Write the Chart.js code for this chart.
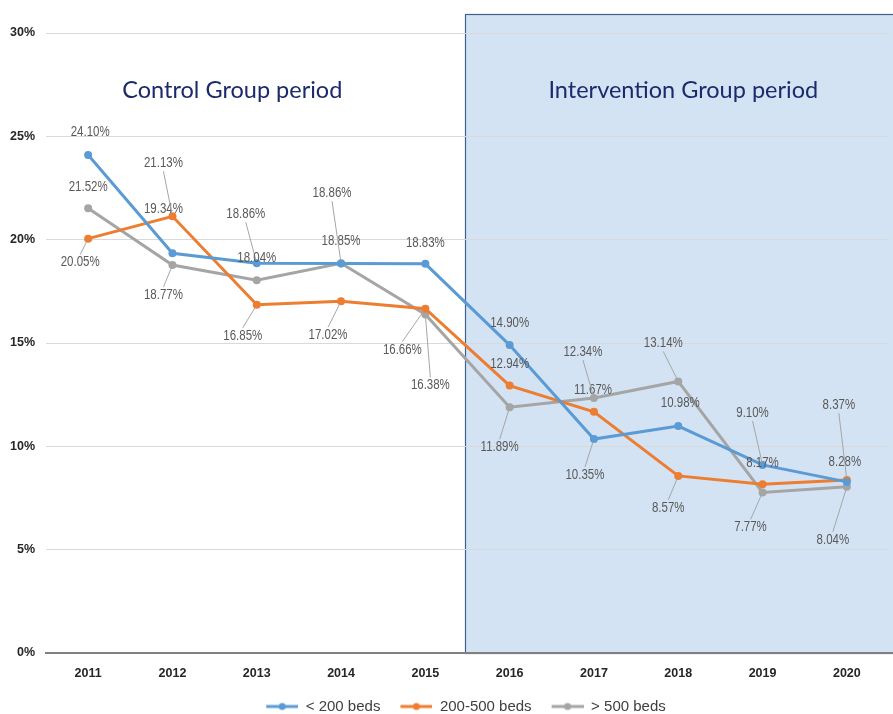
<!DOCTYPE html>
<html>
<head>
<meta charset="utf-8">
<script src="https://cdn.jsdelivr.net/npm/chart.js@4/dist/chart.umd.min.js"></script>
<style>
  html, body { margin: 0; padding: 0; background: #ffffff; }
  #wrap { width: 893px; height: 714px; position: relative; }
</style>
</head>
<body>
<div id="wrap"><canvas id="c" width="893" height="714"></canvas></div>
<script>
// ---- data ----
const years = ['2011', '2012', '2013', '2014', '2015', '2016', '2017', '2018', '2019', '2020'];
const seriesNames = ['< 200 beds', '200-500 beds', '> 500 beds'];
const small = [24.10, 19.34, 18.86, 18.85, 18.83, 14.90, 10.35, 10.98, 9.10, 8.28];
const medium = [20.05, 21.13, 16.85, 17.02, 16.66, 12.94, 11.67, 8.57, 8.17, 8.37];
const large = [21.52, 18.77, 18.04, 18.86, 16.38, 11.89, 12.34, 13.14, 7.77, 8.04];
const yTicks = [0, 5, 10, 15, 20, 25, 30];
const periodLabels = ['Control Group period', 'Intervention Group period'];

// ---- styling / label placement (pixel offsets from each point) ----
const colors = ['#5B9BD5', '#ED7D31', '#A5A5A5'];
const labelPlacement = [
  [[2,-23,0],[-9,-44,0],[-11,-49,1],[0,-22,0],[0,-21,0],[0,-22,0],[-9,36,1],[2,-23,0],[-10,-52,1],[-2,-20,0]],
  [[-8,24,1],[-9,-53,1],[-14,31,1],[-13,34,1],[-23,41,1],[0,-21,0],[-1,-22,0],[-10,32,1],[0,-21,0],[-8,-75,1]],
  [[0,-21,0],[-9,30,1],[0,-22,0],[-9,-70,1],[5,71,1],[-10,40,1],[-11,-46,1],[-15,-38,1],[-12,35,1],[-14,53,1]]
];
const LABEL_FONT = '14px "Liberation Sans", sans-serif';
const LABEL_SQUEEZE = 0.82;
const TICK_FONT = { family: '"Liberation Sans", sans-serif', size: 12.5, weight: 'bold' };

function legendIcon(color) {
  const c = document.createElement('canvas');
  c.width = 47; c.height = 10;
  const g = c.getContext('2d');
  g.strokeStyle = color; g.lineWidth = 3;
  g.beginPath(); g.moveTo(15, 5); g.lineTo(47, 5); g.stroke();
  g.fillStyle = color;
  g.beginPath(); g.arc(31, 5, 3.5, 0, Math.PI * 2); g.fill();
  return c;
}
const icons = colors.map(legendIcon);

const legendSizer = {
  id: 'legendSizer',
  beforeInit(chart) {
    const lg = chart.legend;
    if (!lg) return;
    const f = lg.fit;
    lg.fit = function () { f.call(this); this.height = 20; };
    const d = lg.draw;
    lg.draw = function (...args) {
      const ctx = this.ctx;
      ctx.save();
      ctx.translate(14, 0);
      d.apply(this, args);
      ctx.restore();
    };
  }
};

const shadePlugin = {
  id: 'shade',
  beforeDraw(chart) {
    const { ctx } = chart;
    const x = chart.scales.x, y = chart.scales.y;
    const step = x.getPixelForValue(5) - x.getPixelForValue(4);
    const left = Math.round(x.getPixelForValue(4) + step * 0.465);
    const top = Math.round(y.getPixelForValue(30.9));
    const bottom = y.getPixelForValue(0);
    const right = chart.width;
    ctx.save();
    ctx.fillStyle = '#D4E3F3';
    ctx.fillRect(left, top, right - left, bottom - top);
    ctx.strokeStyle = '#3F6190';
    ctx.lineWidth = 1.2;
    ctx.strokeRect(left + 0.5, top + 0.5, right - left + 5, bottom - top);
    ctx.restore();
  },
  afterDraw(chart) {
    const { ctx } = chart;
    const y = chart.scales.y;
    const b = y.getPixelForValue(0);
    ctx.save();
    ctx.strokeStyle = '#808080';
    ctx.lineWidth = 2;
    ctx.beginPath(); ctx.moveTo(chart.chartArea.right, b); ctx.lineTo(chart.width, b); ctx.stroke();
    ctx.restore();
  }
};

const titlePlugin = {
  id: 'periodTitles',
  afterDatasetsDraw(chart) {
    const { ctx } = chart;
    const x = chart.scales.x, y = chart.scales.y;
    const step = x.getPixelForValue(1) - x.getPixelForValue(0);
    const x0 = x.getPixelForValue(0);
    ctx.save();
    ctx.fillStyle = '#1B2A6B';
    ctx.font = '23.5px Lato, "Liberation Sans", sans-serif';
    ctx.textAlign = 'center';
    ctx.textBaseline = 'middle';
    ctx.fillText(periodLabels[0], x0 + step * 1.71, y.getPixelForValue(27.2));
    ctx.fillText(periodLabels[1], x0 + step * 7.06, y.getPixelForValue(27.2));
    ctx.restore();
  }
};

const labelPlugin = {
  id: 'pointLabels',
  afterDatasetsDraw(chart) {
    const { ctx } = chart;
    chart.data.datasets.forEach((ds, i) => {
      const meta = chart.getDatasetMeta(i);
      meta.data.forEach((pt, j) => {
        const [dx, dy, leader] = labelPlacement[i][j];
        const lx = pt.x + dx, ly = pt.y + dy;
        ctx.save();
        if (leader) {
          const sy = dy < 0 ? ly + 8 : ly - 8;
          const vx = pt.x - lx, vy = pt.y - sy;
          const len = Math.hypot(vx, vy);
          const ex = pt.x - vx / len * 3, ey = pt.y - vy / len * 3;
          ctx.strokeStyle = '#A6A6A6';
          ctx.lineWidth = 1;
          ctx.beginPath(); ctx.moveTo(lx, sy); ctx.lineTo(ex, ey); ctx.stroke();
        }
        ctx.translate(lx, ly);
        ctx.scale(LABEL_SQUEEZE, 1);
        ctx.font = LABEL_FONT;
        ctx.textAlign = 'center';
        ctx.textBaseline = 'middle';
        ctx.fillStyle = '#595959';
        ctx.fillText(ds.data[j].toFixed(2) + '%', 0, 0);
        ctx.restore();
      });
    });
  }
};

const datasets = [small, medium, large].map((vals, i) => ({
  label: seriesNames[i],
  data: vals,
  borderColor: colors[i],
  backgroundColor: colors[i],
  borderWidth: 3,
  pointRadius: 4,
  pointBorderWidth: 0,
  pointBackgroundColor: colors[i],
  tension: 0
}));

new Chart(document.getElementById('c'), {
  type: 'line',
  data: { labels: years, datasets },
  options: {
    responsive: false,
    animation: false,
    devicePixelRatio: 1,
    layout: { padding: { top: 33, right: 4, left: 0, bottom: 0 } },
    plugins: {
      tooltip: { enabled: false },
      legend: {
        position: 'bottom',
        labels: {
          usePointStyle: true,
          pointStyleWidth: 47,
          padding: 5,
          color: '#404040',
          font: { family: '"Liberation Sans", sans-serif', size: 15 },
          generateLabels(chart) {
            const items = Chart.defaults.plugins.legend.labels.generateLabels(chart);
            items.forEach((it, k) => { it.pointStyle = icons[k]; });
            return items;
          }
        }
      }
    },
    scales: {
      x: {
        offset: true,
        grid: { display: false, drawTicks: false },
        border: { display: true, color: '#808080', width: 2 },
        ticks: { padding: 13, color: '#262626', font: TICK_FONT, maxRotation: 0 },
        afterFit(scale) { scale.height = 41; }
      },
      y: {
        min: 0, max: 30,
        afterBuildTicks(scale) { scale.ticks = yTicks.map(v => ({ value: v })); },
        grid: { color: '#D9D9D9', lineWidth: 1, drawTicks: false },
        border: { display: false },
        ticks: { padding: 11, color: '#262626', font: TICK_FONT, callback: v => v + '%' },
        afterFit(scale) { scale.width = 46; }
      }
    }
  },
  plugins: [legendSizer, shadePlugin, titlePlugin, labelPlugin]
});
</script>
</body>
</html>
